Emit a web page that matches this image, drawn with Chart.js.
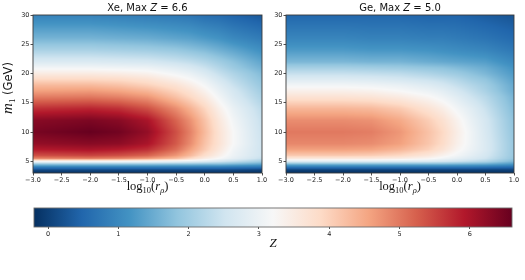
<!DOCTYPE html>
<html>
<head>
<meta charset="utf-8">
<script src="https://cdn.jsdelivr.net/npm/chart.js@4"></script>
<style>
  html, body { margin: 0; padding: 0; background: #fff; }
  #wrap { position: relative; width: 525px; height: 280px; overflow: hidden; }
  .box { position: absolute; }
</style>
</head>
<body>
<div id="wrap">
  <div class="box" style="left:0;top:0;width:270px;height:200px"><canvas id="cXe"></canvas></div>
  <div class="box" style="left:270px;top:0;width:255px;height:200px"><canvas id="cGe"></canvas></div>
  <div class="box" style="left:0;top:200px;width:525px;height:80px"><canvas id="cBar"></canvas></div>
</div>
<script>
// ---------------- data ----------------
const xGrid = [-3, -2, -1.5, -1, -0.5, -0.25, 0, 0.25, 0.5, 1];            // log10(r_rho)
const mGrid = [3, 3.5, 4, 4.5, 5, 5.5, 6, 7, 8, 10, 12, 14, 16, 17, 18, 19, 20, 21, 22, 24, 26, 30]; // m1 (GeV)

// Z values, one column per xGrid entry, listed along mGrid
const zXe = [
  [-0.2, 0.1, 0.8, 1.8, 3.2, 4.9, 5.4, 5.9, 6.2, 6.45, 6.3, 5.7, 4.95, 4.6, 4.3, 3.9, 3.5, 3.1, 2.7, 2.1, 1.6, 0.9],
  [-0.2, 0.1, 0.8, 1.8, 3.2, 5.0, 5.5, 6.0, 6.3, 6.6, 6.4, 5.8, 5.0, 4.65, 4.3, 3.9, 3.5, 3.1, 2.7, 2.1, 1.6, 0.9],
  [-0.2, 0.1, 0.8, 1.8, 3.2, 4.9, 5.4, 5.9, 6.25, 6.5, 6.3, 5.7, 4.9, 4.55, 4.2, 3.85, 3.45, 3.05, 2.65, 2.05, 1.55, 0.85],
  [-0.2, 0.1, 0.8, 1.8, 3.1, 4.7, 5.2, 5.7, 6.0, 6.2, 6.0, 5.4, 4.7, 4.35, 4.0, 3.7, 3.35, 3.0, 2.6, 2.0, 1.5, 0.8],
  [-0.2, 0.1, 0.8, 1.75, 3.0, 4.3, 4.7, 5.1, 5.3, 5.4, 5.2, 4.8, 4.2, 3.95, 3.7, 3.4, 3.1, 2.8, 2.45, 1.9, 1.4, 0.75],
  [-0.2, 0.1, 0.8, 1.75, 2.9, 3.9, 4.3, 4.6, 4.8, 4.9, 4.75, 4.4, 3.9, 3.7, 3.45, 3.2, 2.95, 2.65, 2.35, 1.8, 1.35, 0.7],
  [-0.2, 0.1, 0.8, 1.7, 2.8, 3.5, 3.8, 4.1, 4.2, 4.3, 4.2, 3.95, 3.55, 3.35, 3.15, 2.95, 2.7, 2.45, 2.2, 1.7, 1.25, 0.6],
  [-0.2, 0.1, 0.8, 1.7, 2.6, 3.2, 3.4, 3.6, 3.7, 3.7, 3.6, 3.4, 3.1, 2.95, 2.8, 2.6, 2.4, 2.2, 2.0, 1.55, 1.15, 0.55],
  [-0.2, 0.1, 0.75, 1.6, 2.4, 2.9, 3.0, 3.1, 3.2, 3.2, 3.1, 2.95, 2.7, 2.6, 2.45, 2.3, 2.15, 1.95, 1.8, 1.4, 1.0, 0.45],
  [-0.2, 0.0, 0.7, 1.4, 2.0, 2.4, 2.5, 2.5, 2.5, 2.45, 2.4, 2.3, 2.1, 2.0, 1.9, 1.8, 1.7, 1.55, 1.4, 1.1, 0.8, 0.3]
];
const zGe = [
  [-0.2, 0.0, 0.7, 1.6, 2.8, 3.6, 4.1, 4.6, 4.85, 5.0, 4.8, 4.35, 3.7, 3.4, 3.1, 2.75, 2.4, 2.05, 1.65, 1.25, 0.95, 0.5],
  [-0.2, 0.0, 0.7, 1.6, 2.8, 3.6, 4.1, 4.6, 4.85, 5.0, 4.8, 4.35, 3.7, 3.4, 3.1, 2.75, 2.4, 2.05, 1.65, 1.25, 0.95, 0.5],
  [-0.2, 0.0, 0.7, 1.6, 2.8, 3.6, 4.05, 4.55, 4.8, 4.95, 4.75, 4.3, 3.65, 3.35, 3.05, 2.7, 2.35, 2.0, 1.6, 1.2, 0.9, 0.5],
  [-0.2, 0.0, 0.7, 1.6, 2.75, 3.5, 3.9, 4.35, 4.6, 4.7, 4.5, 4.1, 3.5, 3.2, 2.95, 2.6, 2.3, 1.95, 1.6, 1.2, 0.9, 0.5],
  [-0.2, 0.0, 0.7, 1.6, 2.7, 3.3, 3.6, 4.0, 4.15, 4.2, 4.05, 3.7, 3.25, 3.0, 2.75, 2.45, 2.15, 1.85, 1.5, 1.15, 0.85, 0.45],
  [-0.2, 0.0, 0.7, 1.6, 2.6, 3.1, 3.35, 3.7, 3.85, 3.9, 3.75, 3.45, 3.05, 2.85, 2.6, 2.35, 2.05, 1.8, 1.45, 1.1, 0.85, 0.45],
  [-0.2, 0.0, 0.7, 1.55, 2.5, 2.9, 3.1, 3.3, 3.4, 3.45, 3.35, 3.1, 2.8, 2.6, 2.4, 2.2, 1.95, 1.7, 1.4, 1.05, 0.8, 0.45],
  [-0.2, 0.0, 0.7, 1.5, 2.35, 2.7, 2.85, 3.0, 3.05, 3.05, 2.95, 2.8, 2.5, 2.35, 2.2, 2.0, 1.8, 1.6, 1.35, 1.0, 0.75, 0.4],
  [-0.2, 0.0, 0.65, 1.45, 2.2, 2.5, 2.6, 2.7, 2.7, 2.65, 2.6, 2.45, 2.25, 2.1, 2.0, 1.85, 1.65, 1.5, 1.3, 0.95, 0.7, 0.35],
  [-0.2, 0.0, 0.55, 1.2, 1.65, 1.85, 1.9, 1.9, 1.9, 1.85, 1.8, 1.7, 1.6, 1.5, 1.45, 1.35, 1.25, 1.15, 1.0, 0.75, 0.55, 0.25]
];

const xTicks = [-3, -2.5, -2, -1.5, -1, -0.5, 0, 0.5, 1];
const yTicks = [5, 10, 15, 20, 25, 30];
const barTicks = [0, 1, 2, 3, 4, 5, 6];
const xRange = [-3, 1];
const mRange = [3, 30];
const zRange = [-0.2, 6.6];
const titleXe = ['Xe, Max ', 'Z', ' = 6.6'];
const titleGe = ['Ge, Max ', 'Z', ' = 5.0'];

// ---------------- colour map (RdBu reversed) ----------------
const cmapHex = ['#053061','#2166ac','#4393c3','#92c5de','#d1e5f0','#f7f7f7','#fddbc7','#f4a582','#d6604d','#b2182b','#67001f'];
const cmapRGB = cmapHex.map(h => [parseInt(h.slice(1,3),16), parseInt(h.slice(3,5),16), parseInt(h.slice(5,7),16)]);
function colorOf(z) {
  let t = (z - zRange[0]) / (zRange[1] - zRange[0]);
  t = Math.max(0, Math.min(1, t)) * (cmapRGB.length - 1);
  const i = Math.min(cmapRGB.length - 2, Math.floor(t));
  const f = t - i, a = cmapRGB[i], b = cmapRGB[i + 1];
  return [a[0] + (b[0]-a[0])*f, a[1] + (b[1]-a[1])*f, a[2] + (b[2]-a[2])*f];
}

const TICK = '#222';
const FRAME = '#3a3a3a';

// ---------------- plugins ----------------
const heatPlugin = {
  id: 'heat',
  beforeDatasetsDraw(chart, args, opts) {
    if (!opts.grid) return;
    const { ctx, chartArea: a, scales: { x, y } } = chart;
    const L = Math.round(a.left), T = Math.round(a.top);
    const W = Math.round(a.right) - L, H = Math.round(a.bottom) - T;
    const off = document.createElement('canvas');
    off.width = W; off.height = H;
    const octx = off.getContext('2d');
    const img = octx.createImageData(W, H);
    const g = opts.grid;
    for (let i = 0; i < xGrid.length - 1; i++) {
      const px0 = x.getPixelForValue(xGrid[i]), px1 = x.getPixelForValue(xGrid[i + 1]);
      for (let j = 0; j < mGrid.length - 1; j++) {
        const py0 = y.getPixelForValue(mGrid[j]), py1 = y.getPixelForValue(mGrid[j + 1]);
        const z00 = g[i][j], z10 = g[i+1][j], z01 = g[i][j+1], z11 = g[i+1][j+1];
        for (let px = Math.floor(px0); px <= Math.ceil(px1); px++) {
          const cx = px + 0.5;
          if (cx < px0 || cx >= px1) continue;
          const tx = (cx - px0) / (px1 - px0);
          for (let py = Math.floor(py1); py <= Math.ceil(py0); py++) {
            const cy = py + 0.5;
            if (cy < py1 || cy >= py0) continue;
            const ty = (py0 - cy) / (py0 - py1);
            const z = (z00 * (1 - tx) + z10 * tx) * (1 - ty) + (z01 * (1 - tx) + z11 * tx) * ty;
            const lx = px - L, ly = py - T;
            if (lx < 0 || ly < 0 || lx >= W || ly >= H) continue;
            const c = colorOf(z);
            const k = (ly * W + lx) * 4;
            img.data[k] = c[0]; img.data[k+1] = c[1]; img.data[k+2] = c[2]; img.data[k+3] = 255;
          }
        }
      }
    }
    octx.putImageData(img, 0, 0);
    ctx.drawImage(off, L, T);
  },
  afterDraw(chart, args, opts) {
    const { ctx, chartArea: a } = chart;
    ctx.save();
    ctx.strokeStyle = opts.frame || FRAME;
    ctx.lineWidth = 0.9;
    ctx.strokeRect(a.left, a.top, a.right - a.left, a.bottom - a.top);
    ctx.restore();
    if (opts.texts) opts.texts(chart, ctx, a);
  }
};

function drawRich(ctx, segs, cx, cy, rot) {
  ctx.save();
  ctx.translate(cx, cy);
  if (rot) ctx.rotate(rot);
  ctx.textBaseline = 'alphabetic';
  ctx.fillStyle = '#111';
  let total = 0;
  segs.forEach(s => { ctx.font = s.font; s.w = ctx.measureText(s.t).width; total += s.w; });
  let xx = -total / 2;
  segs.forEach(s => { ctx.font = s.font; ctx.fillText(s.t, xx, s.dy || 0); xx += s.w; });
  ctx.restore();
}

function fmtMinus(v, d) { return (d ? v.toFixed(d) : String(v)).replace('-', '\u2212'); }

function xLabel(ctx, cx, cy) {
  const S = '"Liberation Serif", "DejaVu Serif", serif';
  drawRich(ctx, [
    { t: 'log', font: `12.5px ${S}` },
    { t: '10', font: `8.5px ${S}`, dy: 3 },
    { t: '(', font: `12.5px ${S}` },
    { t: 'r', font: `italic 12.5px ${S}` },
    { t: '\u03c1', font: `italic 8.5px ${S}`, dy: 3 },
    { t: ')', font: `12.5px ${S}` }
  ], cx, cy);
}
function titleText(ctx, parts, cx, cy) {
  const F = '"DejaVu Sans", sans-serif';
  drawRich(ctx, [
    { t: parts[0], font: `10px ${F}` },
    { t: parts[1], font: `oblique 10px ${F}` },
    { t: parts[2], font: `10px ${F}` }
  ], cx, cy);
}

function panelOptions(padLeft, yWidth, padRight, texts, grid) {
  return {
    responsive: true,
    maintainAspectRatio: false,
    animation: false,
    events: [],
    layout: { padding: { left: padLeft, right: padRight, top: 15, bottom: 15 } },
    plugins: {
      legend: { display: false },
      tooltip: { enabled: false },
      heat: { grid: grid, texts: texts }
    },
    scales: {
      x: {
        type: 'linear', min: xRange[0], max: xRange[1],
        afterBuildTicks: s => { s.ticks = xTicks.map(v => ({ value: v })); },
        afterFit: s => { s.height = 12; },
        border: { display: false },
        grid: { display: true, drawOnChartArea: false, drawTicks: true, tickLength: 2.5, color: TICK, lineWidth: 0.8 },
        ticks: { autoSkip: false, maxRotation: 0, padding: 1, color: TICK,
                 font: { family: 'DejaVu Sans', size: 6.5 },
                 callback: v => fmtMinus(v, 1) }
      },
      y: {
        type: 'linear', min: mRange[0], max: mRange[1],
        afterBuildTicks: s => { s.ticks = yTicks.map(v => ({ value: v })); },
        afterFit: s => { s.width = yWidth; },
        border: { display: false },
        grid: { display: true, drawOnChartArea: false, drawTicks: true, tickLength: 2.5, color: TICK, lineWidth: 0.8 },
        ticks: { autoSkip: false, padding: 1, color: TICK,
                 font: { family: 'DejaVu Sans', size: 6.5 },
                 callback: v => String(v) }
      }
    }
  };
}

function nodes() {
  const pts = [];
  xGrid.forEach(xv => mGrid.forEach(mv => pts.push({ x: xv, y: mv })));
  return pts;
}

// Xe panel
new Chart(document.getElementById('cXe'), {
  type: 'scatter',
  data: { datasets: [{ data: nodes(), pointRadius: 0 }] },
  options: panelOptions(11, 22, 8, (chart, ctx, a) => {
    const cx = (a.left + a.right) / 2;
    titleText(ctx, titleXe, cx, 11);
    xLabel(ctx, cx, 190);
    drawRich(ctx, [
      { t: 'm', font: 'italic 15px "Liberation Serif", serif' },
      { t: '1', font: '9px "Liberation Serif", serif', dy: 3 },
      { t: ' (GeV)', font: '11.5px "DejaVu Sans", sans-serif' }
    ], 12, (a.top + a.bottom) / 2 - 6, -Math.PI / 2);
  }, zXe),
  plugins: [heatPlugin]
});

// Ge panel
new Chart(document.getElementById('cGe'), {
  type: 'scatter',
  data: { datasets: [{ data: nodes(), pointRadius: 0 }] },
  options: panelOptions(2, 14, 11, (chart, ctx, a) => {
    const cx = (a.left + a.right) / 2;
    titleText(ctx, titleGe, cx, 11);
    xLabel(ctx, cx, 190);
  }, zGe),
  plugins: [heatPlugin]
});

// colour bar
const barPlugin = {
  id: 'cbar',
  beforeDatasetsDraw(chart) {
    const { ctx, chartArea: a, scales: { x } } = chart;
    const p0 = x.getPixelForValue(zRange[0]), p1 = x.getPixelForValue(zRange[1]);
    const grad = ctx.createLinearGradient(p0, 0, p1, 0);
    cmapHex.forEach((c, i) => grad.addColorStop(i / (cmapHex.length - 1), c));
    ctx.save();
    ctx.fillStyle = grad;
    ctx.fillRect(p0, a.top, p1 - p0, a.bottom - a.top);
    ctx.restore();
  },
  afterDraw(chart) {
    const { ctx, chartArea: a } = chart;
    ctx.save();
    ctx.strokeStyle = '#6a6a6a';
    ctx.lineWidth = 0.9;
    ctx.strokeRect(a.left, a.top, a.right - a.left, a.bottom - a.top);
    ctx.restore();
    drawRich(ctx, [{ t: 'Z', font: 'italic 13px "Liberation Serif", serif' }], (a.left + a.right) / 2, 47);
  }
};
new Chart(document.getElementById('cBar'), {
  type: 'scatter',
  data: { datasets: [{ data: [], pointRadius: 0 }] },
  options: {
    responsive: true, maintainAspectRatio: false, animation: false, events: [],
    layout: { padding: { left: 34, right: 13, top: 8, bottom: 41 } },
    plugins: { legend: { display: false }, tooltip: { enabled: false } },
    scales: {
      x: {
        type: 'linear', min: zRange[0], max: zRange[1],
        afterBuildTicks: s => { s.ticks = barTicks.map(v => ({ value: v })); },
        afterFit: s => { s.height = 12; },
        border: { display: false },
        grid: { display: true, drawOnChartArea: false, drawTicks: true, tickLength: 2, color: TICK, lineWidth: 0.8 },
        ticks: { autoSkip: false, maxRotation: 0, padding: 1, color: TICK,
                 font: { family: 'DejaVu Sans', size: 6.5 }, callback: v => String(v) }
      },
      y: { display: false, min: 0, max: 1 }
    }
  },
  plugins: [barPlugin]
});
</script>
</body>
</html>
